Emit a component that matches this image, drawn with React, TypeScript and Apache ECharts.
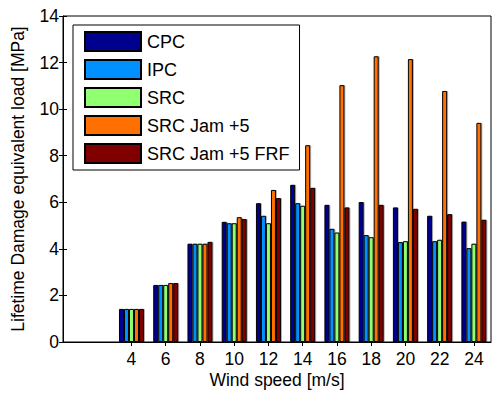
import React, { useEffect, useRef } from "react";
import * as echarts from "echarts";

const windSpeeds = [4, 6, 8, 10, 12, 14, 16, 18, 20, 22, 24];
const seriesNames = ["CPC", "IPC", "SRC", "SRC Jam +5", "SRC Jam +5 FRF"];
const cpc = [1.42, 2.45, 4.22, 5.16, 5.96, 6.75, 5.89, 6.01, 5.78, 5.42, 5.17];
const ipc = [1.42, 2.45, 4.22, 5.1, 5.42, 5.96, 4.86, 4.59, 4.29, 4.33, 4.03];
const src = [1.42, 2.45, 4.22, 5.1, 5.1, 5.85, 4.7, 4.5, 4.33, 4.39, 4.22];
const srcJam = [1.42, 2.53, 4.22, 5.36, 6.53, 8.45, 11.03, 12.27, 12.15, 10.78, 9.41];
const srcJamFrf = [1.42, 2.53, 4.3, 5.28, 6.18, 6.62, 5.78, 5.89, 5.72, 5.49, 5.25];
const colors = ["#00008F", "#0090FF", "#90FF70", "#FF7000", "#800000"];

const FONT = "'Liberation Sans', Arial, Helvetica, sans-serif";

export default function App() {
  const ref = useRef<HTMLDivElement>(null);
  useEffect(() => {
    if (!ref.current) return;
    const chart = echarts.init(ref.current, undefined, { renderer: "svg" });
    const allValues = [cpc, ipc, src, srcJam, srcJamFrf];
    const series = allValues.map((vals, i) => ({
      name: seriesNames[i],
      type: "bar",
      barWidth: 5,
      barGap: "0%",
      data: windSpeeds.map((x, j) => [x, vals[j]]),
      itemStyle: {
        color: colors[i],
        borderColor: "#000",
        borderWidth: 1,
        shadowColor: "rgba(0,0,0,0.3)",
        shadowOffsetX: 1,
        shadowBlur: 0,
      },
    }));
    const tickStyle = { inside: true, length: 4, lineStyle: { color: "#000", width: 1 } };
    chart.setOption({
      animation: false,
      backgroundColor: "#fff",
      textStyle: { fontFamily: FONT },
      grid: {
        left: 63,
        right: 2,
        top: 16,
        bottom: 52,
        show: true,
        borderColor: "#000",
        borderWidth: 1,
        backgroundColor: "#fff",
      },
      legend: {
        left: 73,
        top: 25,
        orient: "vertical",
        itemWidth: 56,
        itemHeight: 19,
        itemGap: 7,
        padding: [6, 10, 6, 11],
        backgroundColor: "#fff",
        borderColor: "#000",
        borderWidth: 1,
        textStyle: { fontSize: 18, color: "#000", fontFamily: FONT, lineHeight: 19, padding: [0, 0, 0, 1] },
        icon: "rect",
        data: seriesNames,
      },
      xAxis: [
        {
          type: "value",
          min: 0,
          max: 25,
          interval: 2,
          axisLine: { show: true, onZero: false, lineStyle: { color: "#000", width: 1 } },
          axisTick: { ...tickStyle, customValues: windSpeeds },
          axisLabel: {
            customValues: windSpeeds,
            color: "#000",
            fontSize: 17.5,
            fontFamily: FONT,
            margin: 8,
          },
          splitLine: { show: false },
        },
        {
          type: "value",
          position: "top",
          min: 0,
          max: 25,
          interval: 2,
          axisLine: { show: false },
          axisTick: { ...tickStyle, customValues: windSpeeds },
          axisLabel: { show: false },
          splitLine: { show: false },
        },
      ],
      yAxis: [
        {
          type: "value",
          min: 0,
          max: 14,
          interval: 2,
          axisLine: { show: true, lineStyle: { color: "#000", width: 1 } },
          axisTick: { ...tickStyle },
          axisLabel: { color: "#000", fontSize: 17.5, fontFamily: FONT, margin: 4 },
          splitLine: { show: false },
        },
        {
          type: "value",
          position: "right",
          min: 0,
          max: 14,
          interval: 2,
          axisLine: { show: false },
          axisTick: { ...tickStyle },
          axisLabel: { show: false },
          splitLine: { show: false },
        },
      ],
      graphic: [
        {
          type: "text",
          x: 277,
          y: 380,
          style: {
            text: "Wind speed [m/s]",
            fill: "#000",
            font: `17.5px ${FONT}`,
            align: "center",
            verticalAlign: "middle",
          },
        },
        {
          type: "text",
          x: 18,
          y: 179,
          rotation: Math.PI / 2,
          style: {
            text: "Lifetime Damage equivalent load [MPa]",
            fill: "#000",
            font: `17.5px ${FONT}`,
            align: "center",
            verticalAlign: "middle",
          },
        },
      ],
      series,
    });
    return () => chart.dispose();
  }, []);
  return (
    <div
      ref={ref}
      style={{ position: "fixed", left: 0, top: 0, width: 493, height: 394 }}
    />
  );
}
